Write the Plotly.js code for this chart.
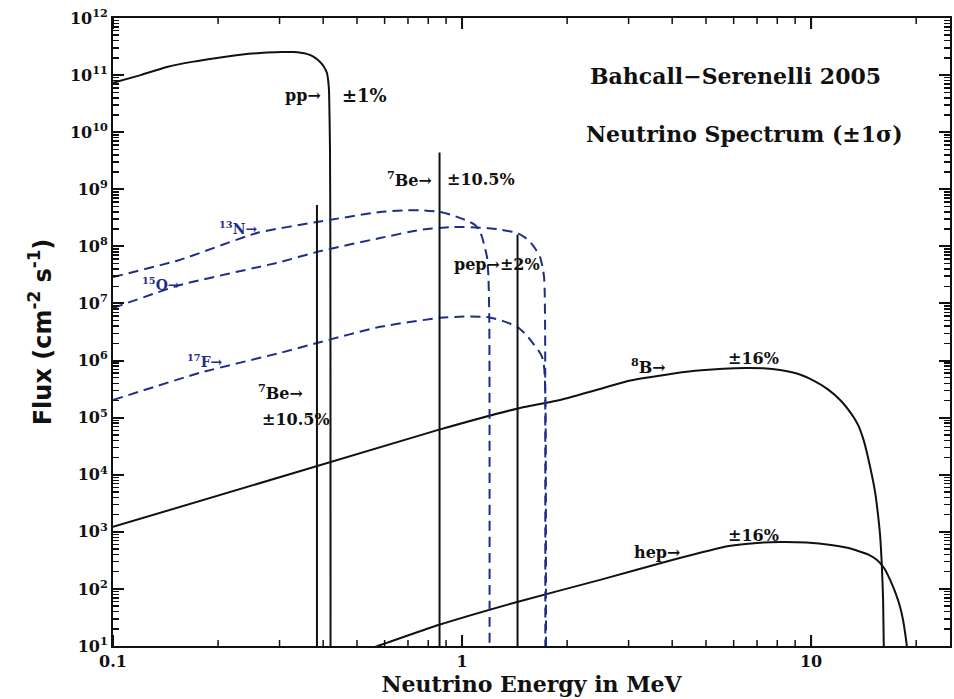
<!DOCTYPE html>
<html>
<head>
<meta charset="utf-8">
<script src="https://cdn.plot.ly/plotly-3.0.1.min.js"></script>
<style>html,body{margin:0;padding:0;background:#fff}#chart{width:954px;height:699px}</style>
</head>
<body>
<div id="chart"></div>
<script>
// ---- Data (energy in MeV, flux in cm^-2 s^-1 [MeV^-1]) ----
const ppE  = [0.1, 0.12, 0.1428, 0.17, 0.1986, 0.235, 0.276, 0.305, 0.328, 0.345, 0.359, 0.375, 0.392, 0.402, 0.410, 0.414, 0.416, 0.4185, 0.4195, 0.4199, 0.42];
const ppF  = [7.3e10, 1.0e11, 1.39e11, 1.72e11, 2.0e11, 2.3e11, 2.48e11, 2.54e11, 2.53e11, 2.47e11, 2.35e11, 2.1e11, 1.7e11, 1.4e11, 1.1e11, 7.5e10, 4.9e10, 5e9, 1e8, 1e5, 1];

const n13E = [0.1, 0.1556, 0.2586, 0.384, 0.582, 0.68, 0.758, 0.865, 0.94, 1.007, 1.050, 1.090, 1.120, 1.141, 1.160, 1.179, 1.19, 1.197, 1.199];
const n13F = [2.9e7, 5.8e7, 1.72e8, 2.67e8, 4.0e8, 4.25e8, 4.3e8, 4.0e8, 3.5e8, 3.0e8, 2.7e8, 2.37e8, 1.9e8, 1.46e8, 1.0e8, 6.5e7, 3.0e7, 5e6, 1];

const o15E = [0.1, 0.1556, 0.301, 0.384, 0.582, 0.758, 0.942, 1.179, 1.30, 1.438, 1.51, 1.566, 1.62, 1.673, 1.700, 1.718, 1.725, 1.730, 1.732];
const o15F = [8.3e6, 2.1e7, 5.3e7, 8.0e7, 1.4e8, 1.94e8, 2.19e8, 2.1e8, 1.95e8, 1.72e8, 1.45e8, 1.2e8, 9.2e7, 6.5e7, 4.4e7, 2.9e7, 1.6e7, 3e6, 1];

const f17E = [0.1, 0.1775, 0.301, 0.384, 0.582, 0.865, 1.03, 1.179, 1.30, 1.438, 1.53, 1.597, 1.65, 1.695, 1.715, 1.725, 1.735, 1.74];
const f17F = [2.04e5, 6.1e5, 1.36e6, 2.03e6, 3.9e6, 5.6e6, 5.9e6, 5.8e6, 5.0e6, 3.9e6, 2.8e6, 2.0e6, 1.55e6, 1.16e6, 8.5e5, 5.6e5, 1.5e5, 1];

const b8E  = [0.1, 0.855, 1.466, 1.909, 2.45, 2.99, 3.8, 4.65, 5.6, 6.51, 7.3, 8.15, 9.2, 10.2, 11.2, 12.19, 13.0, 13.64, 14.15, 14.57, 14.95, 15.25, 15.52, 15.76, 15.95, 16.08, 16.15, 16.3];
const b8F  = [1.22e3, 6.1e4, 1.48e5, 2.04e5, 3.1e5, 4.4e5, 5.6e5, 6.6e5, 7.2e5, 7.4e5, 7.3e5, 6.8e5, 5.8e5, 4.4e5, 3.1e5, 1.96e5, 1.2e5, 7.4e4, 4.0e4, 1.97e4, 9.5e3, 5.0e3, 2.2e3, 883, 250, 65, 10, 1];

const hepE = [0.45, 0.574, 0.860, 1.438, 2.486, 4.0, 5.82, 7.0, 8.15, 9.7, 11.41, 12.6, 13.64, 14.6, 15.45, 16.2, 16.84, 17.45, 17.99, 18.35, 18.59, 18.8, 18.9];
const hepF = [6, 10, 23.5, 59, 144, 322, 566, 640, 665, 650, 590, 530, 462, 400, 322, 230, 144, 85, 48, 28, 17, 10, 1];

// monoenergetic lines: 7Be (0.384), 7Be (0.862), pep (1.442)
const lineE = [0.384, 0.862, 1.442];
const lineF = [5.3e8, 4.4e9, 1.6e8];

const yTickVals = [1e1,1e2,1e3,1e4,1e5,1e6,1e7,1e8,1e9,1e10,1e11,1e12];
const yTickText = ['10<sup>1</sup>','10<sup>2</sup>','10<sup>3</sup>','10<sup>4</sup>','10<sup>5</sup>','10<sup>6</sup>',
                   '10<sup>7</sup>','10<sup>8</sup>','10<sup>9</sup>','10<sup>10</sup>','10<sup>11</sup>','10<sup>12</sup>'];
const xTickVals = [0.1, 1, 10];
const xTickText = ['0.1', '1', '10'];

// minor tick positions (2..9 within each decade)
const xMinor = [];
[0.1, 1, 10].forEach(d => { for (let k = 2; k <= 9; k++) { if (k * d <= 25) xMinor.push(k * d); } });
const yMinor = [];
for (let p = 1; p < 12; p++) { for (let k = 2; k <= 9; k++) yMinor.push(k * Math.pow(10, p)); }

// ---- Styling ----
const BLK = '#111111';
const BLU = '#1f2d8a';
const SERIF = 'DejaVu Serif';
const Y_RANGE = [1, 12];
const PX_PER_DECADE = 628 / 11;   // plot height / decades

const solid = (x, y) => ({x, y, type:'scatter', mode:'lines', line:{color:BLK, width:2, shape:'spline', smoothing:0.5}, hoverinfo:'skip', showlegend:false});
const dashed = (x, y) => ({x, y, type:'scatter', mode:'lines', line:{color:BLU, width:2, dash:'10px,6px', shape:'spline', smoothing:0.5}, hoverinfo:'skip', showlegend:false});

const traces = [
  solid(ppE, ppF),
  solid(b8E, b8F),
  solid(hepE, hepF),
  dashed(n13E, n13F),
  dashed(o15E, o15F),
  dashed(f17E, f17F),
];
lineE.forEach((e, i) => traces.push({x:[e, e], y:[lineF[i], 1], type:'scatter', mode:'lines',
  line:{color:BLK, width:2}, hoverinfo:'skip', showlegend:false}));

// x-axis tick marks (bottom and top, inside the frame), placed through the axis scales
function xTickTrace(vals, lenPx, width) {
  const d = lenPx / PX_PER_DECADE;
  const xs = [], ys = [];
  vals.forEach(v => {
    xs.push(v, v, null, v, v, null);
    ys.push(Math.pow(10, Y_RANGE[0]), Math.pow(10, Y_RANGE[0] + d), null,
            Math.pow(10, Y_RANGE[1]), Math.pow(10, Y_RANGE[1] - d), null);
  });
  return {x:xs, y:ys, type:'scatter', mode:'lines', line:{color:BLK, width}, hoverinfo:'skip', showlegend:false, connectgaps:false};
}
traces.push(xTickTrace(xTickVals, 11, 2));
traces.push(xTickTrace(xMinor, 6, 1.5));

function lab(text, xl, yl, opts) {
  return Object.assign({text, x: xl, y: yl, xref:'x', yref:'y', showarrow:false,
    font:{family:SERIF, size:16, color:BLK, weight:'bold'}}, opts || {});
}
const blueFont = {family:SERIF, size:14, color:BLU, weight:'bold'};
const bigFont = {family:SERIF, size:22, color:BLK, weight:'bold'};

const annotations = [
  lab('Bahcall\u2212Serenelli 2005', 0.782, 10.984, {font:bigFont}),
  lab('Neutrino Spectrum (\u00b11\u03c3)', 0.808, 9.968, {font:bigFont}),
  lab('pp\u2192', -0.398, 10.634, {xanchor:'right'}),
  lab('\u00b11%', -0.350, 10.634, {xanchor:'left', font:{family:SERIF, size:18, color:BLK, weight:'bold'}}),
  lab('<sup>7</sup>Be\u2192', -0.080, 9.18, {xanchor:'right'}),
  lab('\u00b110.5%', -0.049, 9.18, {xanchor:'left'}),
  lab('<sup>13</sup>N\u2192', -0.642, 8.322, {font:blueFont}),
  lab('<sup>15</sup>O\u2192', -0.862, 7.342, {font:blueFont}),
  lab('<sup>17</sup>F\u2192', -0.736, 5.993, {font:blueFont}),
  lab('<sup>7</sup>Be\u2192', -0.519, 5.45),
  lab('\u00b110.5%', -0.476, 4.96),
  lab('pep\u2192\u00b12%', 0.100, 7.674),
  lab('<sup>8</sup>B\u2192', 0.533, 5.905),
  lab('\u00b116%', 0.834, 6.028),
  lab('\u00b116%', 0.834, 2.928),
  lab('hep\u2192', 0.559, 2.63),
];

const layout = {
  width:954, height:699,
  margin:{l:113, r:4, t:18, b:53},
  paper_bgcolor:'#ffffff', plot_bgcolor:'#ffffff',
  showlegend:false,
  xaxis: {
    type:'log', range:[-1, Math.log10(25)], showgrid:false, zeroline:false,
    showline:true, linecolor:BLK, linewidth:2, mirror:'ticks',
    ticks:'inside', ticklen:11, tickwidth:2, tickcolor:BLK,
    tickvals:xTickVals, ticktext:xTickText,
    tickfont:{family:SERIF, size:16, color:BLK, weight:'bold'},
    title:{text:'Neutrino Energy in MeV', standoff:4, font:{family:SERIF, size:22, color:BLK, weight:'bold'}}
  },
  yaxis: {
    type:'log', range:Y_RANGE, showgrid:false, zeroline:false,
    showline:true, linecolor:BLK, linewidth:2, mirror:'ticks',
    ticks:'inside', ticklen:11, tickwidth:2, tickcolor:BLK,
    tickvals:yTickVals, ticktext:yTickText,
    minor:{tickvals:yMinor, ticks:'inside', ticklen:6, tickwidth:1.5, tickcolor:BLK},
    tickfont:{family:SERIF, size:16, color:BLK, weight:'bold'},
    title:{text:'Flux (cm<sup>-2</sup> s<sup>-1</sup>)', standoff:12, font:{family:'DejaVu Sans', size:24, color:BLK, weight:'bold'}}
  },
  annotations
};

Plotly.newPlot('chart', traces, layout, {displayModeBar:false, staticPlot:true});
</script>
</body>
</html>
